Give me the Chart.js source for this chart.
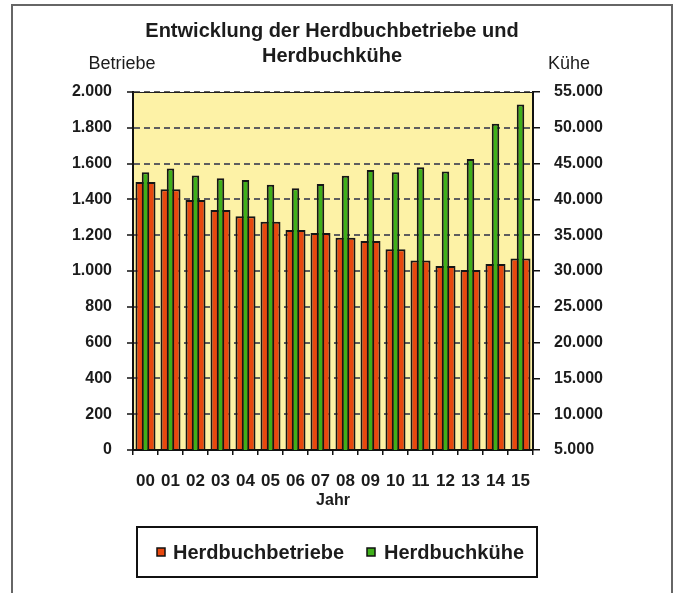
<!DOCTYPE html>
<html>
<head>
<meta charset="utf-8">
<script src="https://cdn.jsdelivr.net/npm/chart.js@4"></script>
<style>
  body { margin: 0; background: #fff; }
  #frame { position: absolute; left: 11px; top: 4px; width: 658px; height: 600px; border: 2px solid #666; border-bottom: none; }
  #wrap { position: absolute; left: 0; top: 0; width: 673px; height: 593px; }
</style>
</head>
<body>
<div id="frame"></div>
<div id="wrap"><canvas id="chart" width="673" height="593"></canvas></div>
<script>
// Jahre (Achsenbeschriftung)
const jahre = ['00', '01', '02', '03', '04', '05', '06', '07', '08', '09', '10', '11', '12', '13', '14', '15'];
// Herdbuchbetriebe (linke Achse)
const betriebe = [1497, 1457, 1396, 1341, 1306, 1275, 1229, 1212, 1186, 1167, 1122, 1058, 1028, 1006, 1039, 1070];
// Herdbuchkühe (rechte Achse)
const kuehe = [43800, 44300, 43350, 42950, 42700, 42050, 41550, 42150, 43300, 44100, 43800, 44500, 43900, 45650, 50550, 53250];
// Achsenskalen
const betriebeTicks = [0, 200, 400, 600, 800, 1000, 1200, 1400, 1600, 1800, 2000];
const kueheTicks = [5000, 10000, 15000, 20000, 25000, 30000, 35000, 40000, 45000, 50000, 55000];

const FONT = '"Liberation Sans", Arial, sans-serif';
const TEXT = '#1c1c1c';
const ORANGE = '#e8480f';
const GREEN = '#3fb01a';

function fmt(v) {
    return String(v).replace(/\B(?=(\d{3})+(?!\d))/g, '.');
}

const decor = {
    id: 'decor',
    beforeDraw(chart) {
        const { ctx, chartArea: a } = chart;
        ctx.save();
        ctx.fillStyle = '#fdf2a6';
        ctx.fillRect(a.left, a.top, a.right - a.left, a.bottom - a.top);
        ctx.restore();
    },
    afterDraw(chart) {
        const { ctx, chartArea: a } = chart;
        ctx.save();
        // top edge of plot area
        ctx.strokeStyle = '#222';
        ctx.lineWidth = 1;
        ctx.beginPath();
        ctx.moveTo(a.left, a.top + 0.5);
        ctx.lineTo(a.right, a.top + 0.5);
        ctx.stroke();

        ctx.fillStyle = TEXT;
        ctx.textAlign = 'center';
        ctx.textBaseline = 'middle';
        ctx.font = 'bold 20px ' + FONT;
        ctx.fillText('Entwicklung der Herdbuchbetriebe und', 332, 31);
        ctx.fillText('Herdbuchkühe', 332, 56);
        ctx.font = '18px ' + FONT;
        ctx.fillText('Betriebe', 122, 64);
        ctx.fillText('Kühe', 569, 64);

        // legend
        ctx.strokeStyle = '#111';
        ctx.lineWidth = 2;
        ctx.strokeRect(137, 527, 400, 50);
        const items = [
            { x: 157, tx: 173, ds: chart.data.datasets[0] },
            { x: 367, tx: 384, ds: chart.data.datasets[1] }
        ];
        ctx.font = 'bold 20px ' + FONT;
        ctx.textAlign = 'left';
        items.forEach(it => {
            ctx.fillStyle = it.ds.backgroundColor;
            ctx.fillRect(it.x, 548, 8, 8);
            ctx.lineWidth = 1.5;
            ctx.strokeStyle = '#111';
            ctx.strokeRect(it.x, 548, 8, 8);
            ctx.fillStyle = TEXT;
            ctx.fillText(it.ds.label, it.tx, 553);
        });
        ctx.restore();
    }
};

new Chart(document.getElementById('chart'), {
    type: 'bar',
    data: {
        labels: jahre,
        datasets: [{
            label: 'Herdbuchbetriebe',
            data: betriebe,
            yAxisID: 'y',
            backgroundColor: ORANGE,
            borderColor: '#161616',
            borderWidth: 2,
            grouped: false,
            categoryPercentage: 1,
            barPercentage: 0.8,
            order: 1
        }, {
            label: 'Herdbuchkühe',
            data: kuehe,
            yAxisID: 'y2',
            backgroundColor: GREEN,
            borderColor: '#161616',
            borderWidth: 2,
            grouped: false,
            categoryPercentage: 1,
            barPercentage: 0.3,
            order: 0
        }]
    },
    options: {
        responsive: false,
        animation: false,
        layout: { padding: { top: 92, bottom: 83, left: 0, right: 0 } },
        plugins: {
            legend: { display: false },
            title: { display: false },
            tooltip: { enabled: false }
        },
        scales: {
            x: {
                offset: true,
                grid: { offset: true, drawOnChartArea: false, color: '#111', tickLength: 5, lineWidth: 1.5 },
                border: { color: '#111', width: 2 },
                ticks: { color: TEXT, font: { family: FONT, size: 17, weight: 'bold' }, padding: 16, maxRotation: 0, autoSkip: false },
                title: { display: true, text: 'Jahr', color: TEXT, font: { family: FONT, size: 16, weight: 'bold' }, padding: { top: 0, bottom: 0 } },
                afterFit(scale) { scale.height = 60; }
            },
            y: {
                position: 'left',
                min: 0,
                max: 2000,
                afterBuildTicks(scale) { scale.ticks = betriebeTicks.map(v => ({ value: v })); },
                grid: { color: '#5e5e5e', lineWidth: 2, tickColor: '#111', tickLength: 6, tickWidth: 1.5, tickBorderDash: [] },
                border: { color: '#111', width: 2, dash: [6, 4] },
                ticks: { color: TEXT, font: { family: FONT, size: 16, weight: 'bold' }, padding: 15, callback: v => fmt(v) },
                afterFit(scale) { scale.width = 133; }
            },
            y2: {
                position: 'right',
                min: 5000,
                max: 55000,
                afterBuildTicks(scale) { scale.ticks = kueheTicks.map(v => ({ value: v })); },
                grid: { drawOnChartArea: false, color: '#111', tickLength: 7, lineWidth: 1.5 },
                border: { color: '#111', width: 2 },
                ticks: { color: TEXT, font: { family: FONT, size: 16, weight: 'bold' }, padding: 14, callback: v => fmt(v) },
                afterFit(scale) { scale.width = 140; }
            }
        }
    },
    plugins: [decor]
});
</script>
</body>
</html>
